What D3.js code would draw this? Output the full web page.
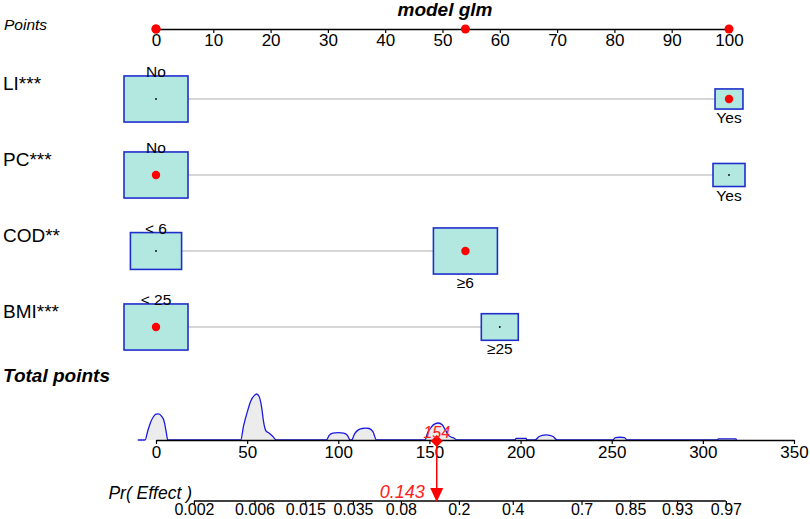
<!DOCTYPE html>
<html>
<head>
<meta charset="utf-8">
<script src="https://cdn.jsdelivr.net/npm/d3@7"></script>
<style>
  body { margin: 0; background: #fff; }
  svg { display: block; font-family: "Liberation Sans", Arial, sans-serif; }
</style>
</head>
<body>
<div id="chart"></div>
<script>
// nomogram data
const variables = ["LI***", "PC***", "COD**", "BMI***"];
const categories = [["No", "Yes"], ["No", "Yes"], ["< 6", "≥6"], ["< 25", "≥25"]];
const catPoints = [[0, 100], [0, 100], [0, 54], [0, 60]];
const catFreq = [[0.84, 0.16], [0.8, 0.2], [0.39, 0.61], [0.75, 0.25]];
const selected = [1, 0, 1, 0]; // category of the highlighted observation

const pointTicks = [0, 10, 20, 30, 40, 50, 60, 70, 80, 90, 100];
const totalTicks = [0, 50, 100, 150, 200, 250, 300, 350];
const prTicks = [0.002, 0.006, 0.015, 0.035, 0.08, 0.2, 0.4, 0.7, 0.85, 0.93, 0.97];

// logistic model: logit(p) = a + b * total points
const logitA = -6.903;
const logitB = 0.0332;

// distribution of total points (relative density)
const densityCurve = [
  [-10, 0], [-6, 0], [-4.5, 0.2], [-3, 0.38], [-1.5, 0.5], [0, 0.56], [1.5, 0.57], [3, 0.52], [4.5, 0.4], [5.5, 0.2], [6.5, 0],
  [46.5, 0], [48, 0.3], [50, 0.6], [52, 0.85], [54, 0.97], [55.2, 1.0], [56.5, 0.95], [58, 0.7], [59, 0.4], [60.3, 0.2], [62, 0.15], [64, 0.08], [66, 0],
  [93.5, 0], [95, 0.1], [97, 0.15], [100, 0.16], [103, 0.15], [105, 0.1], [106.5, 0],
  [107.3, 0], [109, 0.14], [111, 0.22], [113, 0.25], [115, 0.26], [117, 0.25], [119, 0.18], [121, 0],
  [147.5, 0], [149, 0.15], [151, 0.28], [153, 0.35], [155, 0.37], [157, 0.33], [159, 0.2], [161, 0.08], [163, 0.05], [165.5, 0],
  [197, 0], [197.5, 0.035], [203, 0.035], [203.5, 0],
  [208, 0], [210, 0.07], [212, 0.1], [214, 0.11], [216, 0.1], [218, 0.07], [220, 0],
  [250.5, 0], [252, 0.05], [254.5, 0.06], [257, 0.05], [258.5, 0],
  [308, 0], [308.5, 0.025], [318, 0.025], [318.5, 0]
];

const width = 810, height = 519;

const svg = d3.select("#chart")
  .append("svg")
  .attr("width", width)
  .attr("height", height);

// scales
const xPts = d3.scaleLinear().domain([0, 100]).range([156, 729]);
const xTot = d3.scaleLinear().domain([0, 350]).range([156, 794]);
const xLogit = d3.scaleLinear().domain([logitA, logitA + logitB * 350]).range([156, 794]);
const rowY = d3.scaleLinear().domain([0, 3]).range([99, 327]);
const yDen = d3.scaleLinear().domain([0, 1]).range([440, 394]);
const logit = p => Math.log(p / (1 - p));

function styleAxis(g, size) {
  g.select(".domain").attr("stroke", "#000").attr("stroke-width", 1.3);
  g.selectAll(".tick line").attr("stroke", "#000").attr("stroke-width", 1.2);
  g.selectAll(".tick text")
    .attr("fill", "#000")
    .style("font-size", size + "px");
}

// title
svg.append("text")
  .attr("x", 445)
  .attr("y", 16)
  .attr("text-anchor", "middle")
  .style("font-size", "19px")
  .style("font-weight", "bold")
  .style("font-style", "italic")
  .text("model glm");

// Points axis
svg.append("text")
  .attr("x", 4)
  .attr("y", 30)
  .style("font-size", "15.5px")
  .style("font-style", "italic")
  .text("Points");

const ptsAxis = svg.append("g")
  .attr("transform", "translate(0,29)")
  .call(d3.axisBottom(xPts).tickValues(pointTicks).tickSize(4).tickSizeOuter(0).tickPadding(1));
styleAxis(ptsAxis, 17);

// variable rows
variables.forEach(function (v, i) {
  const y = rowY(i);
  const maxF = d3.max(catFreq[i]);
  const size = d3.scaleSqrt().domain([0, maxF]).range([0, 64]);

  svg.append("text")
    .attr("x", 3)
    .attr("y", y - 9)
    .style("font-size", "19px")
    .text(v);

  svg.append("line")
    .attr("x1", xPts(d3.min(catPoints[i])))
    .attr("x2", xPts(d3.max(catPoints[i])))
    .attr("y1", y)
    .attr("y2", y)
    .attr("stroke", "#c8c8c8")
    .attr("stroke-width", 1.6);

  categories[i].forEach(function (c, j) {
    const w = size(catFreq[i][j]);
    const h = w * 0.72;
    const cx = xPts(catPoints[i][j]);

    svg.append("rect")
      .attr("x", cx - w / 2)
      .attr("y", y - h / 2)
      .attr("width", w)
      .attr("height", h)
      .attr("fill", "#b3e8e0")
      .attr("stroke", "#1f2fcc")
      .attr("stroke-width", 1.6);

    svg.append("circle")
      .attr("cx", cx)
      .attr("cy", y)
      .attr("r", selected[i] === j ? 4.2 : 0.9)
      .attr("fill", selected[i] === j ? "#ff0000" : "#000");

    svg.append("text")
      .attr("x", cx)
      .attr("y", j === 0 ? y - h / 2 + 1 : y + h / 2 + 14)
      .attr("text-anchor", "middle")
      .style("font-size", "15.5px")
      .text(c);
  });
});

// selected scores on Points axis
const scores = catPoints.map((p, i) => p[selected[i]]);
svg.selectAll(".score-dot")
  .data(scores)
  .enter()
  .append("circle")
  .attr("class", "score-dot")
  .attr("cx", d => xPts(d))
  .attr("cy", 29)
  .attr("r", 4.5)
  .attr("fill", "#ff0000");

// Total points
svg.append("text")
  .attr("x", 3)
  .attr("y", 382)
  .style("font-size", "19px")
  .style("font-weight", "bold")
  .style("font-style", "italic")
  .text("Total points");

svg.append("path")
  .datum(densityCurve)
  .attr("fill", "#ececec")
  .attr("d", d3.area()
    .x(d => xTot(d[0]))
    .y0(yDen(0))
    .y1(d => yDen(d[1]))
    .curve(d3.curveMonotoneX));

svg.append("path")
  .datum(densityCurve)
  .attr("fill", "none")
  .attr("stroke", "#1a1ae0")
  .attr("stroke-width", 1.3)
  .attr("d", d3.line()
    .x(d => xTot(d[0]))
    .y(d => yDen(d[1]))
    .curve(d3.curveMonotoneX));

const totAxis = svg.append("g")
  .attr("transform", "translate(0,440)")
  .call(d3.axisBottom(xTot).tickValues(totalTicks).tickSize(4).tickSizeOuter(0).tickPadding(2));
styleAxis(totAxis, 17);

// Pr( Effect ) axis
const prAxis = svg.append("g")
  .attr("transform", "translate(0,501)")
  .call(d3.axisBottom(xLogit)
    .tickValues(prTicks.map(logit))
    .tickFormat((d, i) => prTicks[i])
    .tickSize(4)
    .tickPadding(0));
prAxis.select(".domain").remove();
prAxis.append("line")
  .attr("x1", xLogit(logit(prTicks[0])))
  .attr("x2", xLogit(logit(prTicks[prTicks.length - 1])))
  .attr("stroke", "#000")
  .attr("stroke-width", 1.3);
styleAxis(prAxis, 16);
prAxis.selectAll(".tick text").attr("y", 14).attr("dy", 0);

svg.append("text")
  .attr("x", 192)
  .attr("y", 499)
  .attr("text-anchor", "end")
  .style("font-size", "17.5px")
  .style("font-style", "italic")
  .text("Pr( Effect )");

// highlighted observation
const total = d3.sum(scores);
const prob = 1 / (1 + Math.exp(-(logitA + logitB * total)));
const tx = xTot(total);

svg.append("line")
  .attr("x1", tx)
  .attr("x2", tx)
  .attr("y1", 441)
  .attr("y2", 490)
  .attr("stroke", "#ff0000")
  .attr("stroke-width", 1.5);

svg.append("path")
  .attr("d", d3.line()([[tx - 6.5, 488], [tx + 6.5, 488], [tx, 502]]) + "Z")
  .attr("fill", "#ff0000");

svg.append("path")
  .attr("transform", `translate(${tx},441) rotate(45)`)
  .attr("d", d3.symbol(d3.symbolSquare, 72)())
  .attr("fill", "#ff0000");

svg.append("text")
  .attr("x", tx)
  .attr("y", 438)
  .attr("text-anchor", "middle")
  .attr("fill", "#ff2020")
  .style("font-size", "16px")
  .style("font-style", "italic")
  .text(total);

svg.append("text")
  .attr("x", tx - 12)
  .attr("y", 498)
  .attr("text-anchor", "end")
  .attr("fill", "#ff2020")
  .style("font-size", "18px")
  .style("font-style", "italic")
  .text(d3.format(".3f")(prob));
</script>
</body>
</html>
